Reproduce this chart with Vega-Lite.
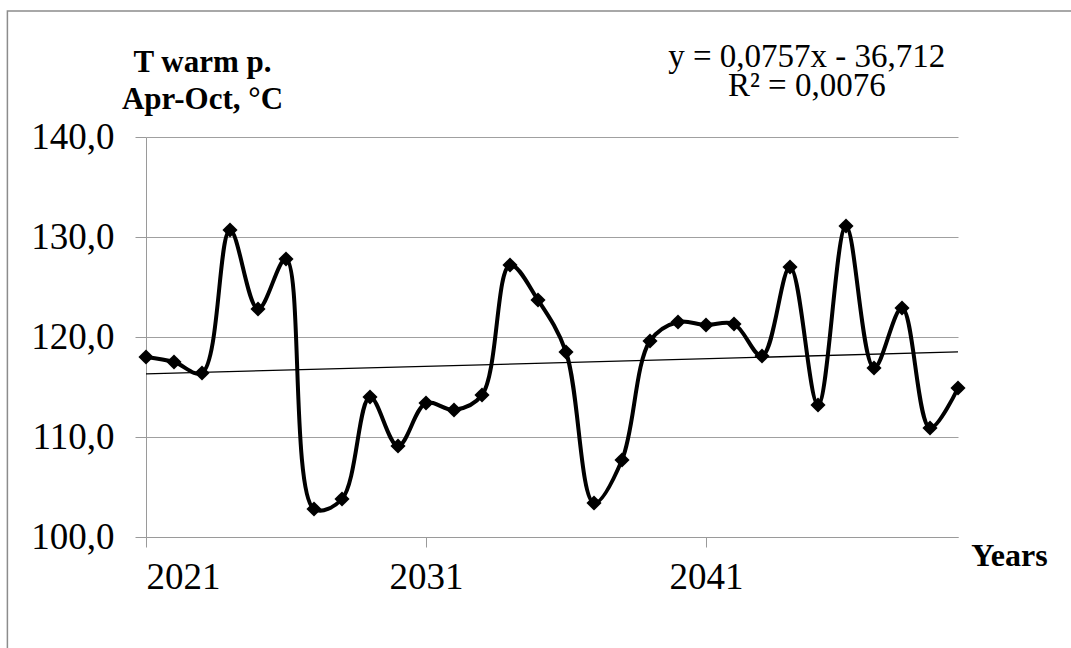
{
  "$schema": "https://vega.github.io/schema/vega-lite/v6.json",
  "autosize": {"type": "none"},
  "width": 812,
  "height": 400,
  "padding": {"left": 146, "top": 137, "right": 113, "bottom": 111},
  "background": "white",
  "config": {
    "view": {"stroke": null},
    "font": "Liberation Serif"
  },
  "data": {
    "values": [
      {"year": 2021, "t": 118.0},
      {"year": 2022, "t": 117.5},
      {"year": 2023, "t": 116.4},
      {"year": 2024, "t": 130.7},
      {"year": 2025, "t": 122.8},
      {"year": 2026, "t": 127.8},
      {"year": 2027, "t": 102.8},
      {"year": 2028, "t": 103.8},
      {"year": 2029, "t": 114.0},
      {"year": 2030, "t": 109.1},
      {"year": 2031, "t": 113.4},
      {"year": 2032, "t": 112.7},
      {"year": 2033, "t": 114.2},
      {"year": 2034, "t": 127.2},
      {"year": 2035, "t": 123.7},
      {"year": 2036, "t": 118.5},
      {"year": 2037, "t": 103.4},
      {"year": 2038, "t": 107.7},
      {"year": 2039, "t": 119.6},
      {"year": 2040, "t": 121.5},
      {"year": 2041, "t": 121.2},
      {"year": 2042, "t": 121.3},
      {"year": 2043, "t": 118.1},
      {"year": 2044, "t": 127.0},
      {"year": 2045, "t": 113.2},
      {"year": 2046, "t": 131.1},
      {"year": 2047, "t": 116.9},
      {"year": 2048, "t": 122.9},
      {"year": 2049, "t": 110.9},
      {"year": 2050, "t": 114.9}
    ]
  },
  "encoding": {
    "x": {
      "field": "year",
      "type": "quantitative",
      "scale": {"domain": [2021, 2050], "nice": false, "zero": false},
      "axis": {
        "values": [2021, 2031, 2041],
        "format": "d",
        "grid": false,
        "labelFont": "Liberation Serif",
        "labelFontSize": 37,
        "labelColor": "black",
        "labelPadding": 12,
        "tickSize": 10,
        "tickColor": "#9a9a9a",
        "domainColor": "#9a9a9a",
        "title": "Years",
        "titleFont": "Liberation Serif",
        "titleFontSize": 32,
        "titleFontWeight": "bold",
        "titleColor": "black",
        "titleAnchor": null,
        "titleAlign": "center",
        "titleBaseline": "alphabetic",
        "titleX": 863,
        "titleY": 28
      }
    },
    "y": {
      "field": "t",
      "type": "quantitative",
      "scale": {"domain": [100, 140], "nice": false, "zero": false},
      "axis": {
        "values": [100, 110, 120, 130, 140],
        "labelExpr": "replace(format(datum.value, '.1f'), '.', ',')",
        "grid": true,
        "gridColor": "#a0a0a0",
        "gridWidth": 1,
        "labelFont": "Liberation Serif",
        "labelFontSize": 37,
        "labelColor": "black",
        "labelPadding": 21,
        "tickSize": 11,
        "tickColor": "#9a9a9a",
        "domainColor": "#9a9a9a",
        "title": ["T warm p.", "Apr-Oct, °C"],
        "titleFont": "Liberation Serif",
        "titleFontSize": 31,
        "titleFontWeight": "bold",
        "titleColor": "black",
        "titleAngle": 0,
        "titleAnchor": null,
        "titleAlign": "center",
        "titleBaseline": "alphabetic",
        "titleLineHeight": 37,
        "titleX": 56,
        "titleY": -66
      }
    }
  },
  "layer": [
    {
      "transform": [{"filter": "datum.year == 2021"}],
      "mark": {"type": "rect", "fill": null, "stroke": "#8c8c8c", "strokeWidth": 1.5},
      "encoding": {
        "x": {"datum": 2016.05},
        "x2": {"datum": 2062},
        "y": {"datum": 152.6},
        "y2": {"datum": 80}
      }
    },
    {
      "transform": [{"filter": "datum.year == 2021"}],
      "mark": {"type": "text", "text": "y = 0,0757x - 36,712", "font": "Liberation Serif", "fontSize": 33, "align": "center", "baseline": "alphabetic", "color": "black"},
      "encoding": {
        "x": {"datum": 2044.6},
        "y": {"datum": 147.0}
      }
    },
    {
      "transform": [{"filter": "datum.year == 2021"}],
      "mark": {"type": "text", "text": "R² = 0,0076", "font": "Liberation Serif", "fontSize": 33, "align": "center", "baseline": "alphabetic", "color": "black"},
      "encoding": {
        "x": {"datum": 2044.6},
        "y": {"datum": 144.1}
      }
    },
    {
      "mark": {"type": "line", "interpolate": "catmull-rom", "color": "black", "strokeWidth": 4}
    },
    {
      "transform": [{"regression": "t", "on": "year", "extent": [2021, 2050]}],
      "mark": {"type": "line", "color": "black", "strokeWidth": 1.3}
    },
    {
      "mark": {"type": "point", "shape": "diamond", "filled": true, "color": "black", "size": 230, "opacity": 1}
    }
  ]
}
